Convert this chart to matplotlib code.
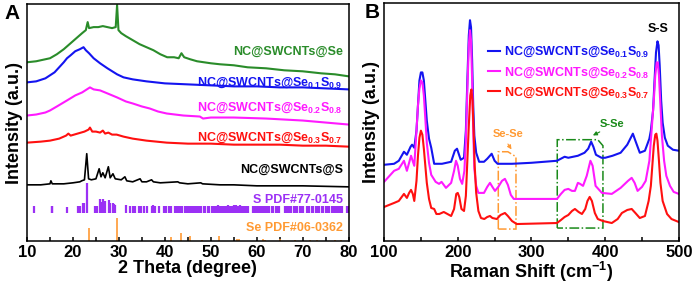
import numpy as np
import matplotlib
matplotlib.use("Agg")
import matplotlib.pyplot as plt
from matplotlib.patches import Polygon

plt.rcParams['font.family'] = ['Liberation Sans', 'DejaVu Sans']
plt.rcParams['font.weight'] = 'bold'
plt.rcParams['mathtext.fontset'] = 'custom'
plt.rcParams['mathtext.rm'] = 'Liberation Sans:bold'
plt.rcParams['mathtext.bf'] = 'Liberation Sans:bold'
plt.rcParams['axes.linewidth'] = 1.1

# ---------------- panel A : XRD (y in arbitrary offset units) ----------------
tt_green = [10, 12, 14, 15, 16.5, 18, 19, 20, 21, 22, 22.8, 23.2, 23.5, 24.5, 25.5, 26.5, 27.5,
            28.5, 29.3, 29.6, 29.9, 30.5, 31.5, 33, 34.5, 36, 37.5, 39, 40.5, 42, 43.0, 43.6,
            44.2, 45.5, 47, 50, 52, 55, 58, 62, 66, 70, 74, 77, 80]
y_green = [178, 179, 181, 182, 186, 191, 195, 199, 203, 207, 210, 218, 212, 213, 213, 214, 213,
           212, 213, 235, 210, 207, 204, 200, 196, 193, 190, 186, 183, 183, 182, 187,
           183, 181, 179, 177, 176, 175, 173, 172, 170, 169, 167, 166, 164]

tt_blue = [10, 12, 14, 15, 16, 17, 18, 18.7, 19.5, 20.5, 21.5, 22.3, 22.8, 23.5, 24.5, 25.9,
           27.5, 29.6, 31, 33, 36, 40, 45, 50, 55, 60, 65, 70, 75, 80]
y_blue = [158, 159, 162, 165, 168, 173, 178, 182, 185, 189, 191, 193, 190, 187, 182, 177,
          172, 166, 163, 161, 159, 157, 156, 155, 154, 154, 153, 153, 152, 151]

tt_mag = [10, 12, 14, 15, 16.5, 18.7, 20.5, 22, 23.7, 24.5, 25.9, 27.5, 29.6, 31.5, 33, 35,
          36.7, 38.5, 40.4, 44, 47.6, 48.3, 50, 55, 62, 70, 75, 80]
y_mag = [125, 126, 128, 130, 134, 140, 145, 148, 153, 151, 150, 147, 143, 139, 137, 134,
         132, 129, 127, 125, 124, 122, 123, 123, 122, 120, 118, 116]

tt_red = [10, 13, 15, 17, 18.5, 19, 19.5, 21, 22.5, 23.4, 23.7, 24.2, 25, 25.9, 26.5, 27,
          27.7, 28.5, 29.5, 31, 33, 36, 40.4, 45, 50, 55, 60, 65, 70, 75, 80]
y_red = [98, 99, 100, 102, 105, 107, 105, 107, 109, 111, 113, 109, 109, 108, 110, 107,
         108, 106, 106, 104, 102, 100, 98, 97, 97, 96, 96, 96, 95, 95, 94]

tt_black = [10, 13, 15, 15.2, 15.5, 18, 20, 21.5, 21.9, 22.5, 23.0, 23.4, 24, 25, 25.7, 26.1,
            26.5, 27.0, 27.7, 28.1, 28.7, 29.2, 30.5, 31.3, 31.7, 33, 34.6, 35, 36, 37.1,
            37.5, 39, 42.8, 43.2, 45, 47.8, 48.2, 52, 55, 60, 70, 80]
y_black = [56, 56, 57, 60, 57, 57, 58, 59, 60, 61, 87, 62, 61, 62, 72, 64,
           68, 63, 74, 63, 67, 62, 61, 64, 60, 59, 62, 59, 59, 61,
           59, 58, 59, 58, 57, 58, 57, 56, 56, 55, 55, 54]

# reference patterns
s_pos = [11.6, 15.4, 15.5, 18.6, 21.2, 21.6, 22.2, 22.5, 23.0, 24.9, 25.2, 25.8, 26.1, 26.5,
         27.0, 27.8, 28.1, 28.7, 29.0, 29.2, 31.6, 32.5, 33.0, 33.5, 34.3, 34.8, 35.5, 36.1,
         37.2, 37.5, 37.9, 38.8, 39.9, 40.3, 40.8, 41.3, 42.2, 42.6, 43.0, 43.4, 43.7, 44.4,
         44.8, 45.2, 45.7, 46.1, 46.6, 47.0, 47.5, 47.9, 48.4, 48.8, 49.3, 49.7, 50.2, 50.6,
         51.1, 51.5, 51.9, 52.4, 52.8, 53.3, 53.7, 54.2, 54.6, 55.1, 55.5, 55.9, 56.4, 56.8,
         57.3, 57.7, 58.1, 59.2, 59.6, 60.0, 60.5, 60.9, 61.4, 61.8, 62.3, 62.7, 63.2, 63.6,
         64.1, 64.5, 64.9, 66.2, 66.6, 67.1, 67.5, 68.0, 68.4, 68.8, 69.3, 69.7, 70.1, 71.0,
         71.4, 71.9, 72.3, 72.8, 73.2, 73.6, 74.1, 74.5, 75.0, 75.4, 75.8, 76.3, 76.7, 77.2,
         77.6, 78.0, 78.5, 79.6, 80.0]
s_h = [7, 7, 7, 6, 7, 7, 10, 10, 30, 7, 7, 14, 11, 14, 12, 13, 10, 10, 9, 8, 8, 7, 7, 7,
       7, 7, 7, 7, 7, 8, 7, 7, 7, 7, 7, 7, 7, 7, 7, 7, 7, 7,
       7, 7, 7, 7, 7, 7, 7, 7, 7, 7, 7, 7, 7, 7,
       7, 8, 7, 7, 7, 7, 8, 7, 7, 8, 8, 7, 8, 7,
       7, 7, 7, 7, 7, 7, 7, 7, 7, 7, 7, 7, 7, 7,
       7, 7, 7, 7, 7, 7, 7, 7, 7, 7, 7, 7, 7, 7,
       7, 7, 7, 7, 7, 7, 7, 7, 7, 7, 7, 7, 7, 7,
       7, 7, 7, 7, 7]
s_base = 28

se_pos = [23.5, 29.6, 41.3, 43.6, 45.4, 48.0, 51.8, 55.7, 56.2, 61.4, 61.7, 65.0, 68.3, 71.5,
          73.0, 77.0, 78.4]
se_h = [13, 23, 4, 8, 5, 1, 5, 2, 2, 2, 1, 2, 1, 1, 1, 1, 1]

# ---------------- panel B : Raman ----------------
rs_blue = [100, 113.6, 120, 127, 131, 136, 138, 141, 144, 146, 148, 150, 152, 154, 156, 158,
           161, 164, 168, 178.6, 191, 196, 199, 204, 208.5, 211, 213, 215, 216.6, 218, 219.5,
           221, 222.5, 225, 229, 235.6, 240, 246, 250, 254, 273.6, 300, 334.6, 345, 350, 363,
           372, 377, 381, 384, 387.5, 395, 400, 410, 421, 430, 437.6, 441, 447, 454, 460, 462,
           465, 467, 469, 471, 472.5, 474, 476, 478, 481, 485, 492, 500]
i_blue = [76, 77, 80, 89, 86, 94, 96, 93, 110, 135, 160, 168, 168, 160, 140, 120,
          102, 93, 77, 77, 79, 90, 92, 81, 83, 110, 160, 205, 220, 213, 180,
          135, 105, 88, 79, 79, 82, 87, 80, 77, 77, 78, 80, 84, 83, 85,
          88, 92, 99, 94, 86, 83, 83, 85, 88, 96, 107, 100, 88, 90, 102, 110,
          130, 160, 188, 199, 195, 175, 140, 118, 103, 95, 91, 90]

rs_mag = [100, 113.6, 120, 127, 131, 136.6, 141, 144, 146, 148, 150, 152, 154, 156, 158, 161,
          164, 170, 174.6, 178, 184, 191, 195, 197.6, 200, 203, 206, 209, 211, 213, 215, 216.6,
          218, 219.5, 221, 222.5, 225, 228, 235.6, 240, 243.7, 247, 250.5, 255, 260, 264, 268,
          272, 276, 280, 334.6, 340, 345, 350, 355, 359, 363, 366, 370, 375, 380, 383, 387,
          395.6, 409, 421, 431, 436, 440, 444, 450, 455, 460, 463, 466, 468, 470, 471.5, 473,
          475, 477, 480, 483, 488, 493, 500]
i_mag = [59, 70, 72, 80, 70, 85, 75, 110, 135, 152, 160, 158, 145, 122, 98, 78,
         66, 59, 57, 59, 53, 58, 70, 80, 75, 62, 57, 70, 100, 150, 195, 210,
         200, 160, 110, 72, 55, 48, 48, 54, 58, 54, 50, 54, 60, 62, 56,
         46, 42, 42, 42, 47, 51, 52, 50, 50, 58, 57, 55, 65, 80, 75, 55,
         48, 47, 53, 60, 63, 58, 50, 54, 60, 80, 110, 140, 165, 178, 178, 165,
         135, 105, 80, 65, 55, 49, 47]

rs_red = [100, 113.6, 120, 127, 131, 134, 136.6, 139, 141, 144, 146, 148, 150, 152, 154, 156,
          158, 161, 164, 168, 171, 175, 181, 186, 191, 195, 198, 200, 202, 205, 208.5, 211,
          213, 215, 217, 218.5, 220, 221.5, 223, 225, 228, 231.5, 236, 240, 243.7, 247, 253,
          258, 264, 268, 273.6, 280, 334.6, 340, 345, 350, 355, 359, 364, 368.5, 373, 376,
          379, 382, 386, 390, 397, 409, 417, 422.7, 430, 436, 441, 447, 454, 459, 462, 464,
          466, 468, 469.5, 471, 473, 475, 478, 484, 490, 500]
i_red = [34, 38, 40, 47, 43, 48, 51, 47, 40, 60, 85, 103, 110, 106, 92, 75,
         58, 42, 33, 32, 27, 27, 29, 27, 25, 32, 47, 48, 44, 32, 30, 45,
         80, 115, 145, 151, 140, 110, 75, 48, 30, 23, 22, 24, 25, 23, 22,
         26, 28, 25, 20, 17, 18, 21, 24, 26, 30, 32, 29, 27, 32, 40,
         44, 40, 28, 22, 20, 18, 22, 28, 31, 32, 28, 23, 25, 40, 55, 75,
         95, 106, 107, 100, 80, 58, 40, 27, 22, 19]

col_green = '#2a8c2a'
col_blue = '#1414f0'
col_mag = '#ff1aff'
col_red = '#ff1010'
col_s = '#9b30f5'
col_se = '#ff9a33'
col_box_green = '#1a8a1a'

fig = plt.figure(figsize=(6.92, 2.86), dpi=100)
axA = fig.add_axes([0.039, 0.157, 0.465, 0.829])
axB = fig.add_axes([0.555, 0.157, 0.426, 0.832])

# ---- panel A
axA.plot(tt_green, y_green, color=col_green, lw=1.5)
axA.plot(tt_blue, y_blue, color=col_blue, lw=1.5)
axA.plot(tt_mag, y_mag, color=col_mag, lw=1.5)
axA.plot(tt_red, y_red, color=col_red, lw=1.5)
axA.plot(tt_black, y_black, color='black', lw=1.2)
axA.vlines(s_pos, s_base, [s_base + h for h in s_h], color=col_s, lw=1.6)
axA.vlines(se_pos, 0, se_h, color=col_se, lw=1.2)

lab_kw = dict(ha='right', va='center', fontsize=9, fontweight='bold')
axA.text(78.7, 188, 'NC@SWCNTs@Se', color=col_green, **lab_kw)
axA.text(78.7, 158, r'NC@SWCNTs@Se$_{\mathrm{0.1}}$S$_{\mathrm{0.9}}$', color=col_blue, **lab_kw)
axA.text(78.7, 133, r'NC@SWCNTs@Se$_{\mathrm{0.2}}$S$_{\mathrm{0.8}}$', color=col_mag, **lab_kw)
axA.text(78.7, 103, r'NC@SWCNTs@Se$_{\mathrm{0.3}}$S$_{\mathrm{0.7}}$', color=col_red, **lab_kw)
axA.text(78.7, 71, 'NC@SWCNTs@S', color='black', **lab_kw)
axA.text(78.7, 41, 'S PDF#77-0145', color=col_s, **lab_kw)
axA.text(78.7, 13, 'Se PDF#06-0362', color=col_se, **lab_kw)

axA.set_xlim(10, 80)
axA.set_ylim(0, 236)
axA.set_xticks(np.arange(10, 81, 10))
axA.set_xticks(np.arange(15, 80, 10), minor=True)
axA.set_yticks([])
axA.tick_params(axis='x', which='both', direction='in', labelsize=12, length=3, width=1.1,
                pad=3)
axA.set_xlabel('2 Theta (degree)', fontsize=13, fontweight='bold', labelpad=0)
axA.set_ylabel('Intensity (a.u.)', fontsize=13, fontweight='bold', labelpad=3)

# ---- panel B
axB.plot(rs_blue, i_blue, color=col_blue, lw=1.5,
         label=r'NC@SWCNTs@Se$_{\mathrm{0.1}}$S$_{\mathrm{0.9}}$')
axB.plot(rs_mag, i_mag, color=col_mag, lw=1.5,
         label=r'NC@SWCNTs@Se$_{\mathrm{0.2}}$S$_{\mathrm{0.8}}$')
axB.plot(rs_red, i_red, color=col_red, lw=1.5,
         label=r'NC@SWCNTs@Se$_{\mathrm{0.3}}$S$_{\mathrm{0.7}}$')
leg = axB.legend(loc='upper left', bbox_to_anchor=(0.33, 0.85), frameon=False, fontsize=9,
                 handlelength=1.0, handletextpad=0.3, labelspacing=0.45, borderpad=0)
for t, c in zip(leg.get_texts(), [col_blue, col_mag, col_red]):
    t.set_color(c)

# Se-Se box
se_box = Polygon([(255, 12), (255, 89), (268, 89), (279, 84), (279, 12)], closed=True,
                 fill=False, ec=col_se, ls='-.', lw=1.1)
axB.add_patch(se_box)
axB.text(268, 107, 'Se-Se', color=col_se, fontsize=8, fontweight='bold', ha='center',
         va='center')
axB.annotate('', xy=(275, 89), xytext=(266, 99),
             arrowprops=dict(arrowstyle='-|>', color=col_se, lw=0.8, mutation_scale=6))
# S-Se box
sse_box = Polygon([(335, 13), (335, 101), (390, 101), (397, 95), (397, 13)], closed=True,
                  fill=False, ec=col_box_green, ls='-.', lw=1.1)
axB.add_patch(sse_box)
axB.text(410, 117, 'S-Se', color=col_box_green, fontsize=8, fontweight='bold', ha='center',
         va='center')
axB.annotate('', xy=(380, 104), xytext=(396, 110),
             arrowprops=dict(arrowstyle='-|>', color=col_box_green, lw=0.8, mutation_scale=6))
axB.text(471.5, 211, 'S-S', color='black', fontsize=9, fontweight='bold', ha='center',
         va='center')

axB.set_xlim(100, 500)
axB.set_ylim(0, 237)
axB.set_xticks(np.arange(100, 501, 100))
axB.set_xticks(np.arange(150, 500, 100), minor=True)
axB.set_yticks([])
axB.tick_params(axis='x', which='both', direction='in', labelsize=12, length=3, width=1.1,
                pad=3)
axB.set_xlabel('Raman Shift (cm$^{\\mathrm{-1}}$)', fontsize=13, fontweight='bold', labelpad=0)
axB.set_ylabel('Intensity (a.u.)', fontsize=13, fontweight='bold', labelpad=3)

fig.text(0.006, 0.985, 'A', fontsize=15, fontweight='bold', va='top', ha='left')
fig.text(0.527, 0.99, 'B', fontsize=15, fontweight='bold', va='top', ha='left')

fig.savefig('out.png', dpi=100)
